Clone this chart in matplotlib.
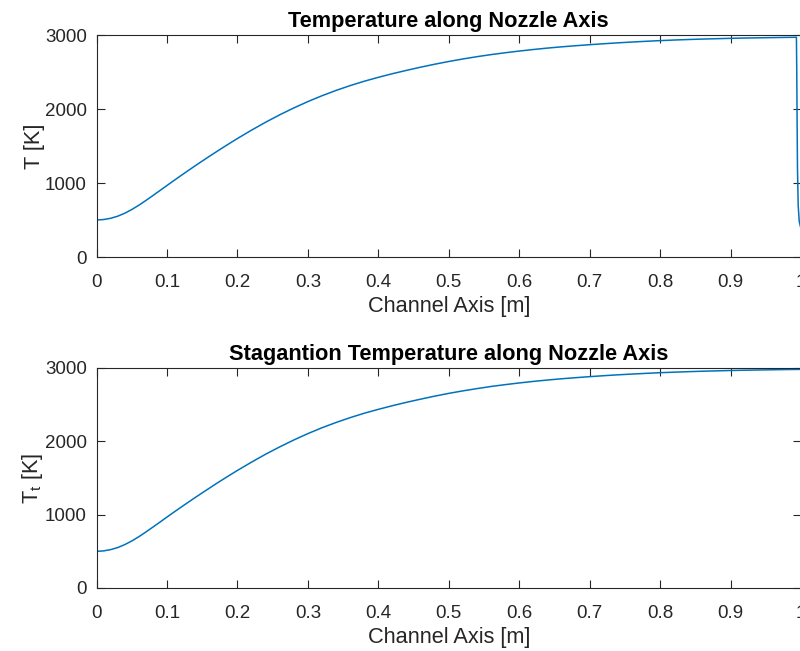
import matplotlib
matplotlib.use("Agg")
import matplotlib.pyplot as plt

plt.rcParams['font.family'] = ['Liberation Sans', 'DejaVu Sans']
plt.rcParams['mathtext.fontset'] = 'custom'
plt.rcParams['mathtext.rm'] = 'Liberation Sans'
plt.rcParams['mathtext.it'] = 'Liberation Sans'

# values (every 0.01 up to 0.2, every 0.02 after)
x_axis = [0.00, 0.01, 0.02, 0.03, 0.04, 0.05, 0.06, 0.07, 0.08, 0.09,
          0.10, 0.11, 0.12, 0.13, 0.14, 0.15, 0.16, 0.17, 0.18, 0.19,
          0.20, 0.22, 0.24, 0.26, 0.28, 0.30, 0.32, 0.34, 0.36, 0.38,
          0.40, 0.42, 0.44, 0.46, 0.48, 0.50, 0.52, 0.54, 0.56, 0.58,
          0.60, 0.62, 0.64, 0.66, 0.68, 0.70, 0.72, 0.74, 0.76, 0.78,
          0.80, 0.82, 0.84, 0.86, 0.88, 0.90, 0.92, 0.94, 0.96, 0.98, 0.99]
T_static = [500, 506, 523, 551, 591, 641, 699, 763, 830, 898,
            966, 1034, 1101, 1167, 1232, 1296, 1359, 1421, 1482, 1542,
            1601, 1714, 1821, 1921, 2014, 2100, 2179, 2251, 2316, 2375,
            2428, 2477, 2522, 2565, 2605, 2642, 2676, 2707, 2735, 2760,
            2783, 2804, 2823, 2840, 2855, 2869, 2882, 2894, 2905, 2915,
            2924, 2932, 2939, 2945, 2950, 2955, 2959, 2962, 2965, 2968, 2969]
# exit drop right at the end of the channel
x_exit = [0.9935, 0.994, 0.9945, 0.995, 0.996, 0.9975, 1.0]
T_exit = [2970, 2500, 1800, 1200, 700, 480, 380]

x_stag = x_axis + [1.0]
T_stag = [500, 506, 523, 551, 591, 641, 699, 763, 830, 898,
          967, 1035, 1102, 1168, 1233, 1297, 1360, 1423, 1484, 1544,
          1603, 1716, 1824, 1924, 2018, 2105, 2185, 2257, 2323, 2383,
          2436, 2486, 2532, 2575, 2616, 2654, 2688, 2719, 2748, 2773,
          2796, 2817, 2836, 2853, 2868, 2882, 2895, 2907, 2917, 2927,
          2936, 2943, 2950, 2956, 2961, 2966, 2970, 2973, 2976, 2979, 2980, 2981]

xticks = [0, 0.1, 0.2, 0.3, 0.4, 0.5, 0.6, 0.7, 0.8, 0.9, 1]
xtick_labels = ['0', '0.1', '0.2', '0.3', '0.4', '0.5', '0.6', '0.7', '0.8', '0.9', '1']
yticks = [0, 1000, 2000, 3000]

line_col = '#0072BD'
dark = '#262626'

fig = plt.figure(figsize=(8, 6.51), dpi=100)
ax1 = fig.add_axes([96.5 / 800, 1 - 257 / 651, 704.5 / 800, 222 / 651])
ax2 = fig.add_axes([96.5 / 800, 1 - 588 / 651, 704.5 / 800, 220 / 651])

ax1.plot(x_axis + x_exit, T_static + T_exit, color=line_col, lw=1.1)
ax2.plot(x_stag, T_stag, color=line_col, lw=1.1)

titles = ['Temperature along Nozzle Axis', 'Stagantion Temperature along Nozzle Axis']
ylabels = ['T [K]', r'T$_{\mathrm{t}}$ [K]']

for ax, title, ylab in zip([ax1, ax2], titles, ylabels):
    ax.set_xlim(0, 1)
    ax.set_ylim(0, 3000)
    ax.set_xticks(xticks)
    ax.set_xticklabels(xtick_labels)
    ax.set_yticks(yticks)
    ax.tick_params(direction='in', top=True, right=True, length=6, width=0.8,
                   colors=dark, labelsize=13.5)
    ax.tick_params(axis='x', pad=12)
    ax.tick_params(axis='y', pad=7)
    for sp in ax.spines.values():
        sp.set_color(dark)
        sp.set_linewidth(0.8)
    ax.set_xlabel('Channel Axis [m]', fontsize=15.7, color=dark, labelpad=4)
    ax.set_ylabel(ylab, fontsize=15.7, color=dark, labelpad=0)
    ax.set_title(title, fontsize=15.7, fontweight='bold', color='black', pad=6)

fig.savefig('out.png', dpi=100)
